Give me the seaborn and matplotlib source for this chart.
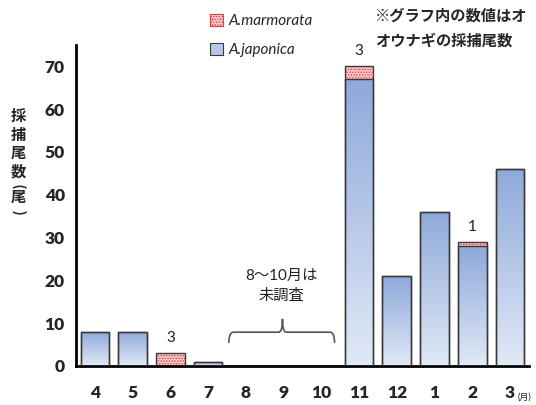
import numpy as np
import pandas as pd
import matplotlib
matplotlib.use("Agg")
import matplotlib.pyplot as plt
import seaborn as sns
from matplotlib.patches import Patch, Rectangle, PathPatch
from matplotlib.path import Path
from matplotlib.colors import LinearSegmentedColormap

# catch data (number of eels per month), 8-10 not surveyed
months = ["4", "5", "6", "7", "8", "9", "10", "11", "12", "1", "2", "3"]
japonica = [8, 8, 0, 1, np.nan, np.nan, np.nan, 67, 21, 36, 28, 46]
marmorata = [0, 0, 3, 0, np.nan, np.nan, np.nan, 3, 0, 0, 1, 0]
yticks = [0, 10, 20, 30, 40, 50, 60, 70]

df = pd.DataFrame({"month": months, "japonica": japonica, "marmorata": marmorata})
df["total"] = df["japonica"] + df["marmorata"]

sns.set_theme(style="white")
plt.rcParams["font.family"] = ["Lato", "Noto Sans CJK JP", "DejaVu Sans"]
plt.rcParams["hatch.linewidth"] = 0.6

fig = plt.figure(figsize=(5.36, 4.05), dpi=100)
ax = fig.add_axes([0.1418, 0.0963, 0.845, 0.7926])

bw = 0.76
# marmorata stacked on top: draw totals first, japonica over it
n0 = len(ax.patches)
sns.barplot(data=df, x="month", y="total", order=months, color="#F9C4C4",
            saturation=1, width=bw, errorbar=None, edgecolor="#E8383D",
            linewidth=0, hatch="......", ax=ax)
tot_patches = ax.patches[n0:]
n1 = len(ax.patches)
sns.barplot(data=df, x="month", y="japonica", order=months, color="#A9BFE6",
            saturation=1, width=bw, errorbar=None, ax=ax)
jap_patches = ax.patches[n1:]

for p in tot_patches:
    if p.get_height() > 0:
        ax.add_patch(Rectangle(p.get_xy(), p.get_width(), p.get_height(),
                               fill=False, ec="#3a3a3a", lw=1, zorder=3))

cmap = LinearSegmentedColormap.from_list("jp", ["#E1E9F6", "#8EA9DB"])
grad = np.linspace(0, 1, 256).reshape(-1, 1)
for p in jap_patches:
    h = p.get_height()
    if not h > 0:
        p.set_visible(False)
        continue
    x0, y0 = p.get_xy()
    im = ax.imshow(grad, cmap=cmap, origin="lower", aspect="auto",
                   extent=[x0, x0 + p.get_width(), y0, y0 + h], zorder=2)
    im.set_clip_path(p)
    p.set_facecolor("none")
    p.set_edgecolor("#3a3a3a")
    p.set_linewidth(1)
    p.set_zorder(3)
    ax.add_patch(Rectangle((x0, y0), p.get_width(), h, facecolor="white",
                           lw=0, zorder=1.5))

ax.set_xlim(-0.5, len(months) - 0.5)
ax.set_ylim(0, 75)

# count labels for marmorata
for i, (m, t) in enumerate(zip(df["marmorata"], df["total"])):
    if m > 0:
        ax.annotate(f"{int(m)}", (i, t), xytext=(0, 6), textcoords="offset points",
                    ha="center", va="bottom", fontsize=11, color="#222222")

# brace over the not-surveyed months
x0b, x1b, xm = 3.55, 6.35, 4.97
yb, yh, yt = 5.4, 7.9, 11
verts = [(x0b, yb), (x0b, yh), (x0b + 0.12, yh), (xm - 0.1, yh), (xm, yh), (xm, yt),
         (xm, yt), (xm, yh), (xm + 0.1, yh), (x1b - 0.12, yh), (x1b, yh), (x1b, yb)]
codes = [Path.MOVETO, Path.CURVE3, Path.CURVE3, Path.LINETO, Path.CURVE3, Path.CURVE3,
         Path.MOVETO, Path.CURVE3, Path.CURVE3, Path.LINETO, Path.CURVE3, Path.CURVE3]
ax.add_patch(PathPatch(Path(verts, codes), fill=False, ec="#555555", lw=1.2))
ax.text(4.93, 14.8, "8〜10月は\n未調査", ha="center", va="bottom", fontsize=11,
        color="#222222", linespacing=1.55)

# axes styling
for s in ["top", "right"]:
    ax.spines[s].set_visible(False)
for s in ["left", "bottom"]:
    ax.spines[s].set_linewidth(2)
    ax.spines[s].set_color("black")
ax.set_yticks(yticks)
ax.set_xticks(range(len(months)))
ax.set_xticks(np.arange(-0.5, len(months), 1), minor=True)
ax.tick_params(axis="x", which="major", length=0, pad=14)
ax.tick_params(axis="x", which="minor", length=6, width=2, color="black", direction="out")
ax.tick_params(axis="y", length=5, width=2, color="black", direction="out", pad=3)
ax.tick_params(labelsize=12.5)
for lab in ax.get_xticklabels() + ax.get_yticklabels():
    lab.set_fontweight("heavy")
ax.set_xlabel("")
ax.set_ylabel("")

handles = [Patch(facecolor="#F9C4C4", edgecolor="#E8383D", hatch="......", lw=0.8),
           Patch(facecolor="#B7C9EA", edgecolor="#3a3a3a", lw=0.8)]
fig.legend(handles, ["A.marmorata", "A.japonica"], loc="upper left",
           bbox_to_anchor=(0.366, 1.0), frameon=False, handlelength=0.85,
           handleheight=0.85, handletextpad=0.35, labelspacing=0.95,
           prop={"style": "italic", "size": 11})

fig.text(0.70, 0.978, "※グラフ内の数値はオ\nオウナギの採捕尾数", ha="left", va="top",
         fontsize=11, fontweight="bold", linespacing=1.85)

# vertical y label, upright characters with turned brackets
ylab = [("採", 0, 117), ("捕", 0, 136), ("尾", 0, 154), ("数", 0, 172),
        ("(", -90, 186), ("尾", 0, 198), (")", -90, 212)]
for ch, rot, py in ylab:
    fig.text(18 / 536, 1 - py / 405, ch, ha="center", va="center", rotation=rot,
             fontsize=11, fontweight="bold")

fig.text(0.965, 0.008, "(月)", ha="left", va="bottom", fontsize=6.5)

fig.savefig("out.png", dpi=100)
